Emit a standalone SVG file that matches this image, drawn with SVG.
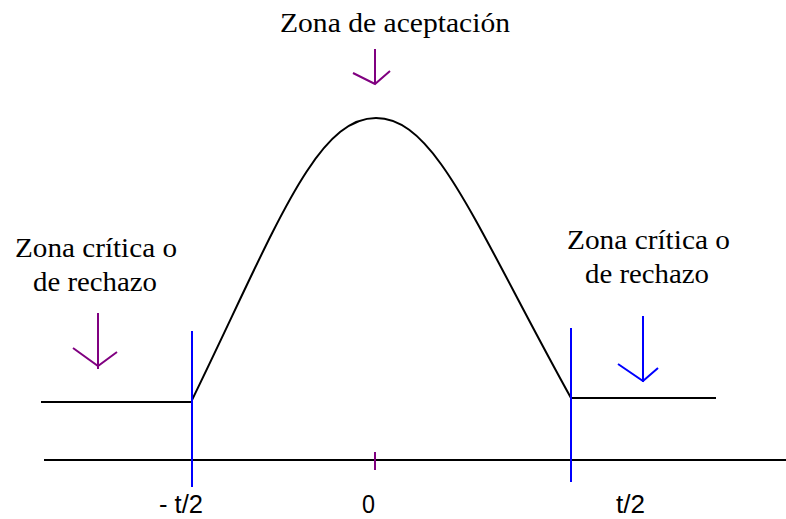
<svg xmlns="http://www.w3.org/2000/svg" width="786" height="519" viewBox="0 0 786 519">
<style>
.serif{font-family:"Liberation Serif","Times New Roman",serif;font-size:27px;fill:#000}
.sans{font-family:"Liberation Sans",Arial,sans-serif;font-size:25px;fill:#000}
.blk{stroke:#000;stroke-width:2;fill:none}
.blue{stroke:#0000ff;stroke-width:2;fill:none}
.purp{stroke:#800080;stroke-width:2;fill:none}
</style>
<rect width="786" height="519" fill="#fff"/>
<g id="axis">
<line class="blk" x1="44" y1="460" x2="786" y2="460"/>
<line class="purp" x1="375" y1="452" x2="375" y2="470"/>
</g>
<g id="curve">
<line class="blk" x1="41" y1="402" x2="192" y2="402"/>
<path class="blk" d="M192,400 C275,230 315,118 376,118 C436,118 475,225 571,398"/>
<line class="blk" x1="571" y1="398" x2="716" y2="398"/>
</g>
<g id="bounds">
<line class="blue" x1="192" y1="331" x2="192" y2="487"/>
<line class="blue" x1="571" y1="328" x2="571" y2="482"/>
</g>
<g id="arrows">
<path class="purp" d="M375,49 V84 M353,73 L375,84 L390,71"/>
<path class="purp" d="M98,313 V369 M73,348 L98,366 L117,352"/>
<path class="blue" d="M643,316 V382 M618,364 L643,381 L658,368"/>
</g>
<g id="labels">
<text class="serif" x="280" y="32" textLength="230" lengthAdjust="spacingAndGlyphs">Zona de aceptación</text>
<text class="serif" x="15" y="257" textLength="162" lengthAdjust="spacingAndGlyphs">Zona crítica o</text>
<text class="serif" x="33" y="291" textLength="124" lengthAdjust="spacingAndGlyphs">de rechazo</text>
<text class="serif" x="567" y="249" textLength="163" lengthAdjust="spacingAndGlyphs">Zona crítica o</text>
<text class="serif" x="585" y="283" textLength="124" lengthAdjust="spacingAndGlyphs">de rechazo</text>
<text class="sans" x="159" y="513" textLength="44" lengthAdjust="spacingAndGlyphs">- t/2</text>
<text class="sans" x="362" y="513" textLength="13" lengthAdjust="spacingAndGlyphs">0</text>
<text class="sans" x="616" y="513" textLength="29" lengthAdjust="spacingAndGlyphs">t/2</text>
</g>
</svg>
